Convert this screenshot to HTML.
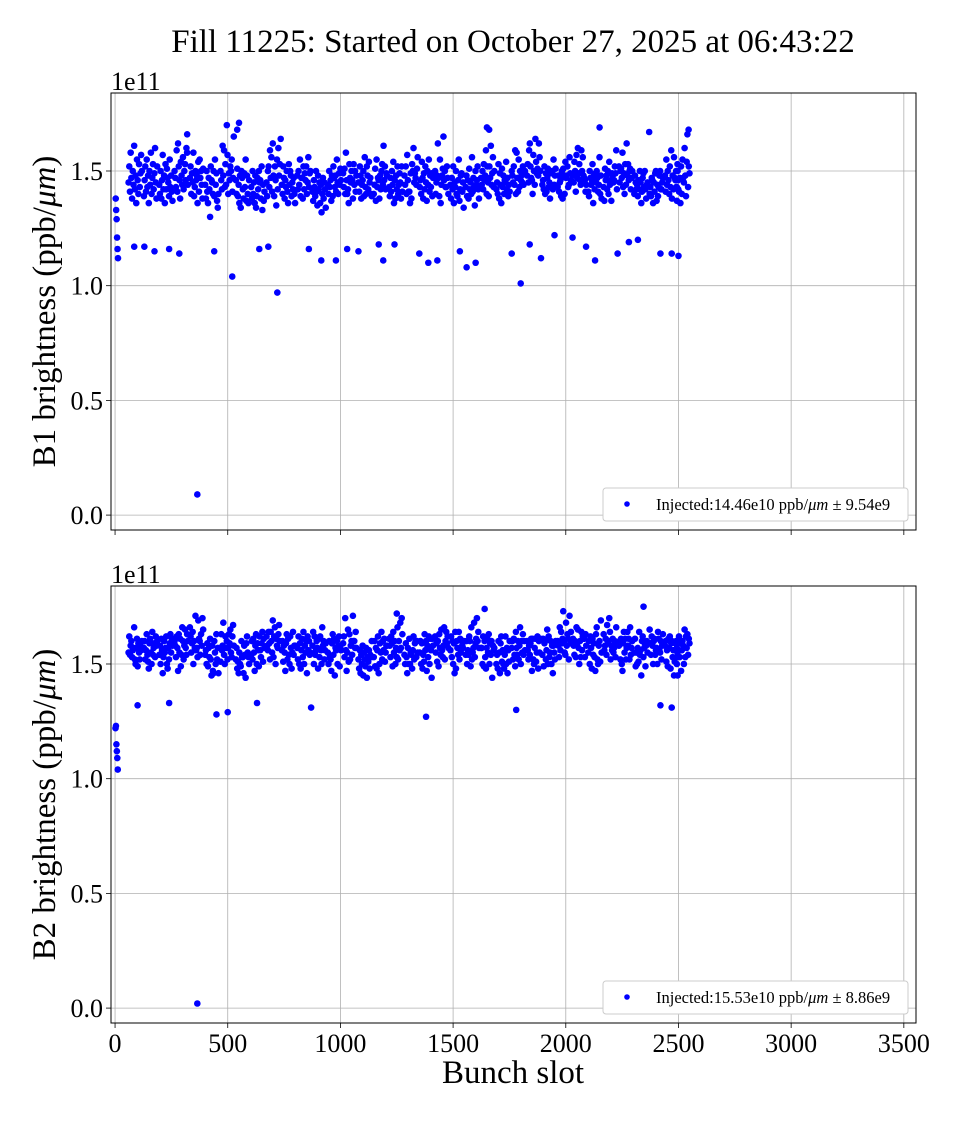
<!DOCTYPE html>
<html><head><meta charset="utf-8"><style>
body{margin:0;background:#fff;}
svg text{font-family:"Liberation Serif",serif;fill:#000;}
</style></head><body>
<svg id="chart" width="960" height="1120" xmlns="http://www.w3.org/2000/svg">
<text x="513" y="52" font-size="33" text-anchor="middle">Fill 11225: Started on October 27, 2025 at 06:43:22</text>
</svg>
<script>
// ---- data ----
const batchStarts = [60,128,196,264,332,400,468,536,604,672,740,808,876,944,1012,1080,1148,1216,1284,1352,1420,1488,1556,1624,1692,1760,1828,1896,1964,2032,2100,2168,2236,2304,2372,2440,2490];
const b1Batches = [
"4552415847385044614248365546405343495750",
"3946524155434836504458404753424960453852",
"4440503846574248365342514745395543484137",
"5047435941625246385448445642505346605844",
"4752404945583943504648365441554750443851",
"4438504136474230524645405039554449373440",
"5046426148594353447057404946525055414765",
"4640513944364834504742384943553748403646",
"4338504045364834394742504546385233443741",
"4539505243594756416248395246355542604853",
"4440524738464350413653445048394542474036",
"4842504455394747385242494652404556434950",
"4137464339504135484245364432404738454234",
"4440504346374839524743484155454049445146",
"4943514058464042365347455046385344504148",
"4541524838444650395643405248425445474039",
"4044513755434746384842505344614652424948",
"4339474150445436463848425240444945385241",
"4844524057464141364938535060454947445156",
"4346405447384942524537504455414843493947",
"5040454862473955364448516546504343524740",
"4438474252364543504039465537424849414534",
"4348394638514245405641474335504446524238",
"4744504253464859405245395247614449564350",
"4245405338494436514348404645544247394441",
"5048455244594058474155435046484552444950",
"4853455962524746405750446454495148625650",
"4446425240494147514345384943504255444851",
"4348414546395038514840544748524344564946",
"4845545041574760495346445950564847464144",
"4139504744465336484249455047414456404838",
"4337514648425040544446374948454652495942",
"5245505147584349405344624853465051424750",
"4048454244394642504536414749435042384445",
"4043394746364541495037443943485042424547",
"4841554450464052435938484256474650435346",
"4337504241473652405547456048395466435249"];
const b2Batches = [
"5562545860535657665250576149595552585660",
"5760525663545148596155506454575953625860",
"5458506156465360555762504857525963556158",
"6058536257476355614954666052586557546360",
"6662555964506057715657536961605463587065",
"5456505949575361524558474660555063525746",
"5163565868545062576052576359655553626758",
"5257485146555049605353465854445962555350",
"5460526155475863505956496256535964516157",
"6258566459526460556953626650615857636760",
"5660515855475963526154506257485564545858",
"5752625059485661536450585560466256605455",
"5864506254566057486153625650665860525659",
"5550605352475963546145575660505862495756",
"5962537056475565516352586054716060576457",
"5248564654505845555249574453515648545360",
"5360495748566246505955645260566151555858",
"6158536259496455605057536652605668577063",
"5450595346575061505554485662525960536055",
"5560505948545163566047585362506156446158",
"6255595160496357546556535866526064596257",
"5662536050594664486057546452615560585760",
"5460505654626049665255576853596170606457",
"5757506249605348576155635059546044585657",
"5054486055465962515650485462505746565160",
"5760526154496457546052586650605563546056",
"6056525854596147615250576151556248605561",
"5461495960525665506253556050584658555260",
"6058536656645961736055546858636152715964",
"6158546053665965575060536456626161536358",
"5560506257486154595347636652505860516955",
"6356586154675960706452585661555760536659",
"5860526150475964556152576458615266545760",
"5561495550575164545645606253575949586055",
"6559546258506061545657506461565560525863",
"5860515649615762485960535645515960505556",
"5357455962536047566058506553625763546159"];
const b1ExtraX = [3,5,7,9,11,13,85,130,175,240,285,440,520,640,680,720,860,915,980,1030,1080,1170,1190,1240,1350,1390,1430,1530,1560,1600,1760,1800,1840,1890,1950,2030,2090,2130,2230,2280,2320,2420,2470,2500,365,550,542,320,1660,2150,2545,2370,1650,735];
const b1ExtraY = [1.38,1.33,1.29,1.21,1.16,1.12,1.17,1.17,1.15,1.16,1.14,1.15,1.04,1.16,1.17,0.97,1.16,1.11,1.11,1.16,1.15,1.18,1.11,1.18,1.14,1.10,1.11,1.15,1.08,1.10,1.14,1.01,1.18,1.12,1.22,1.21,1.17,1.11,1.14,1.19,1.20,1.14,1.14,1.13,0.09,1.71,1.68,1.66,1.68,1.69,1.68,1.67,1.69,1.64];
const b2ExtraX = [2,4,6,8,10,12,100,240,450,500,630,870,1380,1780,2470,2420,365,2345,1640,1250];
const b2ExtraY = [1.22,1.23,1.15,1.12,1.09,1.04,1.32,1.33,1.28,1.29,1.33,1.31,1.27,1.30,1.31,1.32,0.02,1.75,1.74,1.72];
const xTicks = [0,500,1000,1500,2000,2500,3000,3500];
const yTicks = [0.0,0.5,1.0,1.5];
const legendTexts = ["Injected:14.46e10 ppb/","Injected:15.53e10 ppb/"];
const legendTails = [" ± 9.54e9"," ± 8.86e9"];

// ---- drawing ----
const svg = document.getElementById('chart');
const NS = 'http://www.w3.org/2000/svg';
function mk(tag, attrs, parent){const e=document.createElementNS(NS,tag);for(const k in attrs)e.setAttribute(k,attrs[k]);(parent||svg).appendChild(e);return e;}
const L=111,R=916,xmin=-18,xmax=3554,ymin=-0.065,ymax=1.84;
function xs(v){return L+(v-xmin)/(xmax-xmin)*(R-L);}
const RAD=3.3;
const panels=[{top:93,bot:530,batches:b1Batches,ex:b1ExtraX,ey:b1ExtraY,label:'B1',leg:0},
              {top:586,bot:1023,batches:b2Batches,ex:b2ExtraX,ey:b2ExtraY,label:'B2',leg:1}];
panels.forEach((p,pi)=>{
  const ys=v=>p.bot-(v-ymin)/(ymax-ymin)*(p.bot-p.top);
  const g=mk('g',{});
  
  
  xTicks.forEach(t=>{
    const gl=mk('line',{x1:xs(t),x2:xs(t),y1:p.top,y2:p.bot,stroke:'#b0b0b0','stroke-width':0.8},g);
    
    
    mk('line',{x1:xs(t),x2:xs(t),y1:p.bot,y2:p.bot+5,stroke:'#000','stroke-width':0.8},g);
    if(pi===1){const tx=mk('text',{x:xs(t),y:p.bot+29,'font-size':26,'text-anchor':'middle'},g);tx.textContent=t;
      
      }
  });
  yTicks.forEach(t=>{
    const gl=mk('line',{x1:L,x2:R,y1:ys(t),y2:ys(t),stroke:'#b0b0b0','stroke-width':0.8},g);
    
    
    mk('line',{x1:L-5,x2:L,y1:ys(t),y2:ys(t),stroke:'#000','stroke-width':0.8},g);
    const tx=mk('text',{x:L-8,y:ys(t)+9,'font-size':26,'text-anchor':'end'},g);tx.textContent=t.toFixed(1);
    
    
  });
  const pts=mk('g',{fill:'#0000ff'},g);
  
  
  p.batches.forEach((s,bi)=>{
    const n=s.length/2, start=batchStarts[bi];
    for(let i=0;i<n;i++){
      const v=1+parseInt(s.substr(i*2,2))/100;
      const c=mk('circle',{cx:xs(start+i*(62/n)),cy:ys(v),r:RAD},pts);
      
      
    }
  });
  p.ex.forEach((x,i)=>{
    const c=mk('circle',{cx:xs(x),cy:ys(p.ey[i]),r:RAD},pts);
    
    
  });
  const fr=mk('rect',{x:L,y:p.top,width:R-L,height:p.bot-p.top,fill:'none',stroke:'#000','stroke-width':1},g);
  
  
  const off=mk('text',{x:L,y:p.top-3,'font-size':26},g);off.textContent='1e11';
  
  
  const yl=mk('text',{x:0,y:0,'font-size':33,'text-anchor':'middle',transform:`translate(55,${(p.top+p.bot)/2}) rotate(-90)`},g);
  yl.innerHTML=p.label+' brightness (ppb/<tspan font-style="italic">μm</tspan>)';
  
  
  const lg=mk('g',{},g);
  
  
  mk('rect',{x:603,y:p.bot-42,width:305,height:33,rx:3,fill:'#fff',stroke:'#ccc'},lg);
  mk('circle',{cx:627,cy:p.bot-26,r:2.8,fill:'#0000ff'},lg);
  const lt=mk('text',{x:656,y:p.bot-20,'font-size':16.5},lg);
  lt.innerHTML=legendTexts[p.leg]+'<tspan font-style="italic">μm</tspan>'+legendTails[p.leg];
});
const xl=mk('text',{x:513,y:1083,'font-size':33,'text-anchor':'middle'});xl.textContent='Bunch slot';


</script>
</body></html>
